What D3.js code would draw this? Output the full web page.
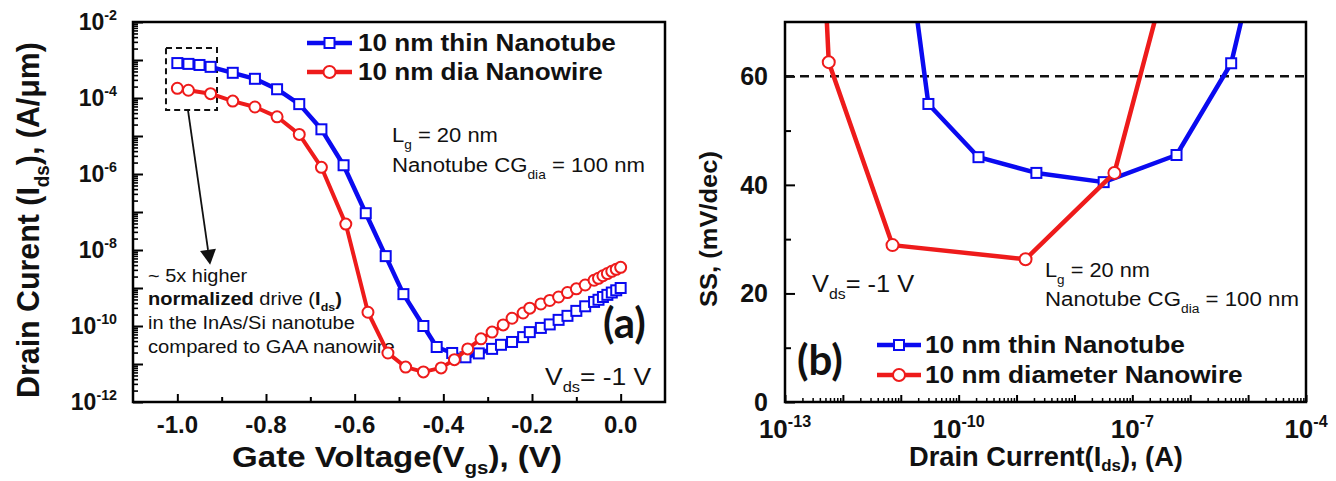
<!DOCTYPE html>
<html><head><meta charset="utf-8">
<script src="https://cdn.jsdelivr.net/npm/d3@7"></script>
<style>html,body{margin:0;padding:0;background:#fff;} svg{display:block;font-family:Arial,"Liberation Sans",sans-serif;}</style>
</head><body><svg id="c" width="1336" height="481"></svg>
<script>
// ---------- DATA ----------
// Panel (a): Ids vs Vgs
const vgsTube = [-1.0,-0.975,-0.95,-0.925,-0.875,-0.825,-0.775,-0.725,-0.675,-0.625,-0.575,-0.53,-0.49,-0.445,-0.415,-0.38,-0.35,-0.32,-0.29,-0.27,-0.245,-0.22,-0.205,-0.18,-0.16,-0.14,-0.12,-0.10,-0.08,-0.06,-0.05,-0.04,-0.03,-0.02,-0.01,0.0];
const idsTube = [8.3e-4,7.9e-4,7.4e-4,6.6e-4,4.6e-4,3.2e-4,1.7e-4,6.9e-5,1.5e-5,1.7e-6,9.3e-8,6.9e-9,6.9e-10,1.0e-10,2.8e-11,1.95e-11,1.5e-11,1.9e-11,2.5e-11,3.2e-11,3.8e-11,5.1e-11,6.9e-11,8.9e-11,1.1e-10,1.45e-10,1.85e-10,2.5e-10,3.3e-10,4.3e-10,4.9e-10,5.8e-10,6.6e-10,7.6e-10,8.7e-10,1.0e-9];
const vgsWire = [-1.0,-0.975,-0.925,-0.875,-0.825,-0.775,-0.725,-0.675,-0.62,-0.57,-0.525,-0.485,-0.445,-0.405,-0.375,-0.345,-0.315,-0.29,-0.265,-0.245,-0.22,-0.205,-0.18,-0.16,-0.14,-0.12,-0.10,-0.08,-0.06,-0.05,-0.04,-0.03,-0.02,-0.01,0.0];
const idsWire = [1.8e-4,1.6e-4,1.3e-4,8.3e-5,5.8e-5,3.2e-5,1.1e-5,1.5e-6,4.8e-8,2.3e-10,1.95e-11,8.3e-12,6.2e-12,7.9e-12,1.3e-11,2.5e-11,4.6e-11,6.9e-11,1.07e-10,1.6e-10,2.2e-10,2.95e-10,3.8e-10,4.7e-10,5.8e-10,7.6e-10,9.5e-10,1.2e-9,1.6e-9,1.8e-9,2.1e-9,2.4e-9,2.75e-9,3.1e-9,3.5e-9];
// Panel (b): SS vs Ids (first/last points lie above the plotted range)
const idTube = [1.1e-11,3.0e-11,2.2e-10,2.2e-9,3.2e-8,5.8e-7,5.1e-6,2.1e-5];
const ssTube = [90,54.9,45.1,42.2,40.5,45.5,62.4,90];
const idWire = [4.3e-13,5.7e-13,7.2e-12,1.43e-9,4.9e-8,7.6e-7];
const ssWire = [90,62.6,28.9,26.3,42.2,90];
// Ticks / labels
const vgsTicks = [-1.0,-0.8,-0.6,-0.4,-0.2,0.0];
const vgsMinor = [-0.9,-0.7,-0.5,-0.3,-0.1];
const idsLabelExp = [-2,-4,-6,-8,-10,-12];
const ssTicks = [0,20,40,60];
const ssMinor = [10,30,50];
const idLabelExp = [-13,-10,-7,-4];
const ssRef = 60;
const seriesTube = "10 nm thin Nanotube";
const seriesWireA = "10 nm dia Nanowire";
const seriesWireB = "10 nm diameter Nanowire";

// ---------- SETUP ----------
const svg = d3.select("#c");
const BLUE = "#0a0af0", RED = "#ee1b1b";

function rich(g, x, y, parts, o = {}) {
  const size = o.size || 20;
  const t = g.append("text").attr("font-size", size).attr("font-weight", o.weight || "normal")
    .attr("text-anchor", o.anchor || "start").attr("fill", "#111");
  if (o.family) t.attr("font-family", o.family);
  let shift = 0;
  const subOff = o.subOff || 0.32;
  parts.forEach(p => {
    if (typeof p === "string") p = { t: p };
    const ts = t.append("tspan").text(p.t);
    let target = 0;
    if (p.sub) target = size * subOff;
    if (p.sup) target = -size * 0.42;
    if (target !== shift) { ts.attr("dy", target - shift); shift = target; }
    if (p.sub || p.sup) ts.attr("font-size", size * (p.scale || 0.62));
    if (p.w) ts.attr("font-weight", p.w);
  });
  let sx = 1;
  if (o.width) { const w = t.node().getBBox().width; sx = o.width / w; }
  const sy = o.sy || 1;
  t.attr("transform", `translate(${x},${y}) rotate(${o.rotate || 0}) scale(${sx},${sy})`);
  return t;
}

// ---------- PANEL A ----------
const xA = d3.scaleLinear().domain([-1.1, 0.1]).range([133, 665]);
const yA = d3.scaleLog().domain([1e-12, 1e-2]).range([402, 22]);
const gA = svg.append("g");

const decA = d3.range(-12, -1).map(e => Math.pow(10, e));
const minA = [];
d3.range(-12, -2).forEach(e => { for (let k = 2; k <= 9; k++) minA.push(k * Math.pow(10, e)); });

gA.append("g").attr("transform", "translate(133,0)")
  .call(d3.axisLeft(yA).tickValues(decA).tickSize(-10).tickFormat(""))
  .call(g => g.select(".domain").remove()).selectAll("line").attr("stroke", "#000").attr("stroke-width", 2);
gA.append("g").attr("transform", "translate(133,0)")
  .call(d3.axisLeft(yA).tickValues(minA).tickSize(-5).tickFormat(""))
  .call(g => g.select(".domain").remove()).selectAll("line").attr("stroke", "#000").attr("stroke-width", 1.6);
gA.append("g").attr("transform", "translate(0,402)")
  .call(d3.axisBottom(xA).tickValues(vgsTicks).tickSize(-8).tickFormat(""))
  .call(g => g.select(".domain").remove()).selectAll("line").attr("stroke", "#000").attr("stroke-width", 2);
gA.append("g").attr("transform", "translate(0,402)")
  .call(d3.axisBottom(xA).tickValues(vgsMinor).tickSize(-5).tickFormat(""))
  .call(g => g.select(".domain").remove()).selectAll("line").attr("stroke", "#000").attr("stroke-width", 2);

gA.append("rect").attr("x", 133).attr("y", 22).attr("width", 532).attr("height", 380)
  .attr("fill", "none").attr("stroke", "#000").attr("stroke-width", 2.5);

// tick labels
idsLabelExp.forEach(e => rich(gA, 117, yA(Math.pow(10, e)) + 8, ["10", { t: String(e), sup: true }], { size: 23, weight: "bold", anchor: "end" }));
vgsTicks.forEach(v => rich(gA, xA(v), 433, [v.toFixed(1)], { size: 24, weight: "bold", anchor: "middle" }));

// axis titles
rich(gA, 39, 220, ["Drain Curent (I", { t: "ds", sub: true }, "),  (A/\u03bcm)"], { size: 29, weight: "bold", anchor: "middle", rotate: -90, width: 356, sy: 1.1 });
rich(gA, 397, 467, ["Gate Voltage(V", { t: "gs", sub: true }, "), (V)"], { size: 30, weight: "bold", anchor: "middle", width: 330, subOff: 0.22 });

// dashed box + arrow
const box = { x0: -1.0256, x1: -0.9105, y0: 2.07e-3, y1: 4.8e-5 };
gA.append("rect").attr("x", xA(box.x0)).attr("y", yA(box.y0)).attr("width", xA(box.x1) - xA(box.x0)).attr("height", yA(box.y1) - yA(box.y0))
  .attr("fill", "none").attr("stroke", "#111").attr("stroke-width", 2).attr("stroke-dasharray", "6,4");
(function () {
  const x1 = xA(-0.976), y1 = yA(box.y1), x2 = xA(-0.926), y2 = yA(4.1e-9);
  const L = Math.hypot(x2 - x1, y2 - y1), ux = (x2 - x1) / L, uy = (y2 - y1) / L;
  const hl = 15, hw = 8, bx = x2 - ux * hl, by = y2 - uy * hl;
  gA.append("line").attr("x1", x1).attr("y1", y1).attr("x2", bx).attr("y2", by).attr("stroke", "#111").attr("stroke-width", 1.8);
  gA.append("path").attr("d", `M${x2},${y2}L${bx - uy * hw},${by + ux * hw}L${bx + uy * hw},${by - ux * hw}Z`).attr("fill", "#111");
})();

// annotation
rich(gA, 148, 282, ["~ 5x higher"], { size: 19, width: 100 });
rich(gA, 148, 305, [{ t: "normalized", w: "bold" }, " drive (", { t: "I", w: "bold" }, { t: "ds", sub: true, w: "bold" }, { t: ")", w: "bold" }], { size: 19, width: 194 });
rich(gA, 148, 329, ["in the InAs/Si nanotube"], { size: 19, width: 207 });
rich(gA, 148, 353, ["compared to GAA nanowire"], { size: 19, width: 247 });

rich(gA, 392, 142, ["L", { t: "g", sub: true }, " = 20 nm"], { size: 21, width: 106 });
rich(gA, 392, 172, ["Nanotube CG", { t: "dia", sub: true }, " = 100 nm"], { size: 21, width: 253 });
rich(gA, 545, 385, ["V", { t: "ds", sub: true }, "= -1 V"], { size: 23, width: 107 });
rich(gA, 603, 338, ["(a)"], { size: 42, weight: "bold", family: "Lato" });

function square(g, x, y, s, c) {
  g.append("rect").attr("x", x - s / 2).attr("y", y - s / 2).attr("width", s).attr("height", s)
    .attr("fill", "#fff").attr("stroke", c).attr("stroke-width", 2);
}
function circle(g, x, y, r, c) {
  g.append("circle").attr("cx", x).attr("cy", y).attr("r", r).attr("fill", "#fff").attr("stroke", c).attr("stroke-width", 2);
}

const lineA = d3.line().x(d => xA(d[0])).y(d => yA(d[1]));
const tubeA = d3.zip(vgsTube, idsTube), wireA = d3.zip(vgsWire, idsWire);
gA.append("path").attr("d", lineA(tubeA)).attr("fill", "none").attr("stroke", BLUE).attr("stroke-width", 4.5).attr("stroke-linejoin", "round");
const mA = gA.append("g");
tubeA.forEach(d => square(mA, xA(d[0]), yA(d[1]), 10, BLUE));
gA.append("path").attr("d", lineA(wireA)).attr("fill", "none").attr("stroke", RED).attr("stroke-width", 4).attr("stroke-linejoin", "round");
const mA2 = gA.append("g");
wireA.forEach(d => circle(mA2, xA(d[0]), yA(d[1]), 5.5, RED));

// legend A
function legend(g, x0, x1, y, txt, kind, c, tw, tx) {
  g.append("line").attr("x1", x0).attr("x2", x1).attr("y1", y).attr("y2", y).attr("stroke", c).attr("stroke-width", 4.5);
  if (kind === "s") square(g, (x0 + x1) / 2, y, 10, c); else circle(g, (x0 + x1) / 2, y, 6, c);
  rich(g, tx, y + 8, [txt], { size: 24, weight: "bold", width: tw });
}
legend(gA, 307, 352, 43, seriesTube, "s", BLUE, 258, 358);
legend(gA, 307, 352, 72, seriesWireA, "c", RED, 245, 358);

// ---------- PANEL B ----------
const xB = d3.scaleLog().domain([1e-13, 1e-4]).range([785, 1306]);
const yB = d3.scaleLinear().domain([0, 70]).range([402, 22]);
const gB = svg.append("g");

const decB = d3.range(-13, -3).map(e => Math.pow(10, e));
const minB = [];
d3.range(-13, -4).forEach(e => { for (let k = 2; k <= 9; k++) minB.push(k * Math.pow(10, e)); });

gB.append("g").attr("transform", "translate(0,402)")
  .call(d3.axisBottom(xB).tickValues(decB).tickSize(-7).tickFormat(""))
  .call(g => g.select(".domain").remove()).selectAll("line").attr("stroke", "#000").attr("stroke-width", 2);
gB.append("g").attr("transform", "translate(0,402)")
  .call(d3.axisBottom(xB).tickValues(minB).tickSize(-4).tickFormat(""))
  .call(g => g.select(".domain").remove()).selectAll("line").attr("stroke", "#000").attr("stroke-width", 1.5);
gB.append("g").attr("transform", "translate(785,0)")
  .call(d3.axisLeft(yB).tickValues(ssTicks).tickSize(-10).tickFormat(""))
  .call(g => g.select(".domain").remove()).selectAll("line").attr("stroke", "#000").attr("stroke-width", 2);
gB.append("g").attr("transform", "translate(785,0)")
  .call(d3.axisLeft(yB).tickValues(ssMinor).tickSize(-6).tickFormat(""))
  .call(g => g.select(".domain").remove()).selectAll("line").attr("stroke", "#000").attr("stroke-width", 2);

ssTicks.forEach(v => rich(gB, 768, yB(v) + 9, [String(v)], { size: 25, weight: "bold", anchor: "end" }));
idLabelExp.forEach(e => rich(gB, xB(Math.pow(10, e)), 438, ["10", { t: String(e), sup: true }], { size: 26, weight: "bold", anchor: "middle" }));

rich(gB, 717, 229, ["SS, (mV/dec)"], { size: 24, weight: "bold", anchor: "middle", rotate: -90, width: 156 });
rich(gB, 1046, 466, ["Drain Current(I", { t: "ds", sub: true }, "), (A)"], { size: 27, weight: "bold", anchor: "middle", width: 274, subOff: 0.2 });

gB.append("line").attr("x1", 785).attr("x2", 1306).attr("y1", yB(ssRef)).attr("y2", yB(ssRef))
  .attr("stroke", "#111").attr("stroke-width", 2.5).attr("stroke-dasharray", "9,6");

svg.append("clipPath").attr("id", "clipB").append("rect").attr("x", 785).attr("y", 22).attr("width", 521).attr("height", 380);
const lineB = d3.line().x(d => xB(d[0])).y(d => yB(d[1]));
const tubeB = d3.zip(idTube, ssTube), wireB = d3.zip(idWire, ssWire);
const dataB = gB.append("g").attr("clip-path", "url(#clipB)");
dataB.append("path").attr("d", lineB(tubeB)).attr("fill", "none").attr("stroke", BLUE).attr("stroke-width", 4.5).attr("stroke-linejoin", "round");
tubeB.filter(d => d[1] <= 70).forEach(d => square(dataB, xB(d[0]), yB(d[1]), 10, BLUE));
dataB.append("path").attr("d", lineB(wireB)).attr("fill", "none").attr("stroke", RED).attr("stroke-width", 4.5).attr("stroke-linejoin", "round");
wireB.filter(d => d[1] <= 70).forEach(d => circle(dataB, xB(d[0]), yB(d[1]), 6, RED));

gB.append("rect").attr("x", 785).attr("y", 22).attr("width", 521).attr("height", 380)
  .attr("fill", "none").attr("stroke", "#000").attr("stroke-width", 2.5);

rich(gB, 812, 292, ["V", { t: "ds", sub: true }, "= -1 V"], { size: 23, width: 103 });
rich(gB, 1045, 277, ["L", { t: "g", sub: true }, " = 20 nm"], { size: 21, width: 105 });
rich(gB, 1045, 306, ["Nanotube CG", { t: "dia", sub: true }, " = 100 nm"], { size: 21, width: 254 });
rich(gB, 797, 375, ["(b)"], { size: 42, weight: "bold", family: "Lato" });

legend(gB, 877, 921, 345, seriesTube, "s", BLUE, 260, 925);
legend(gB, 877, 921, 375, seriesWireB, "c", RED, 318, 925);
</script></body></html>
